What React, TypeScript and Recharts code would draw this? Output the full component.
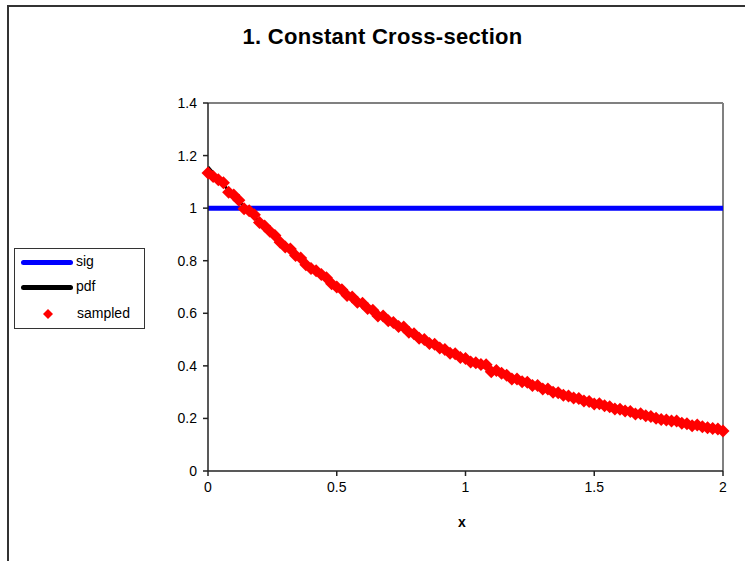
import React from "react";
import {
  ComposedChart,
  Line,
  Scatter,
  XAxis,
  YAxis,
  ReferenceLine,
} from "recharts";

// tick labels
const xTicks = [0, 0.5, 1, 1.5, 2];
const yTicks = [0, 0.2, 0.4, 0.6, 0.8, 1, 1.2, 1.4];

// sig: constant cross-section
const sigX = [0, 2];
const sigY = [1, 1];

// pdf curve
const pdfX = [0, 0.1, 0.2, 0.3, 0.4, 0.5, 0.6, 0.7, 0.8, 0.9, 1, 1.1, 1.2, 1.3, 1.4, 1.5, 1.6, 1.7, 1.8, 1.9, 2];
const pdfY = [
  1.157, 1.046, 0.947, 0.857, 0.775, 0.701, 0.635, 0.574, 0.52, 0.47, 0.425,
  0.385, 0.348, 0.315, 0.285, 0.258, 0.233, 0.211, 0.191, 0.173, 0.157,
];

// sampled histogram points (red diamonds)
const sampledX = [
  0, 0.02, 0.04, 0.06, 0.08, 0.1, 0.12, 0.14, 0.16, 0.18,
  0.2, 0.22, 0.24, 0.26, 0.28, 0.3, 0.32, 0.34, 0.36, 0.38,
  0.4, 0.42, 0.44, 0.46, 0.48, 0.5, 0.52, 0.54, 0.56, 0.58,
  0.6, 0.62, 0.64, 0.66, 0.68, 0.7, 0.72, 0.74, 0.76, 0.78,
  0.8, 0.82, 0.84, 0.86, 0.88, 0.9, 0.92, 0.94, 0.96, 0.98,
  1, 1.02, 1.04, 1.06, 1.08, 1.1, 1.12, 1.14, 1.16, 1.18,
  1.2, 1.22, 1.24, 1.26, 1.28, 1.3, 1.32, 1.34, 1.36, 1.38,
  1.4, 1.42, 1.44, 1.46, 1.48, 1.5, 1.52, 1.54, 1.56, 1.58,
  1.6, 1.62, 1.64, 1.66, 1.68, 1.7, 1.72, 1.74, 1.76, 1.78,
  1.8, 1.82, 1.84, 1.86, 1.88, 1.9, 1.92, 1.94, 1.96, 1.98, 2,
];
const sampledY = [
  1.134, 1.12, 1.108, 1.097, 1.06, 1.05, 1.03, 0.998, 0.99, 0.975,
  0.945, 0.932, 0.912, 0.896, 0.87, 0.852, 0.845, 0.82, 0.81, 0.785,
  0.77, 0.762, 0.748, 0.735, 0.712, 0.7, 0.69, 0.668, 0.662, 0.642,
  0.638, 0.618, 0.612, 0.59, 0.59, 0.572, 0.565, 0.55, 0.548, 0.528,
  0.522, 0.505, 0.5, 0.485, 0.482, 0.468, 0.462, 0.448, 0.446, 0.432,
  0.428, 0.415, 0.412, 0.405, 0.404, 0.378, 0.382, 0.372, 0.364, 0.35,
  0.35, 0.34, 0.338, 0.325, 0.325, 0.312, 0.312, 0.3, 0.298, 0.288,
  0.285, 0.278, 0.276, 0.266, 0.264, 0.255, 0.256, 0.248, 0.244, 0.236,
  0.235, 0.228, 0.226, 0.217, 0.218, 0.21, 0.207, 0.201, 0.196, 0.194,
  0.19, 0.19, 0.182, 0.18, 0.172, 0.175, 0.168, 0.165, 0.162, 0.16, 0.152,
];

const sigData = sigX.map((x, i) => ({ x, y: sigY[i] }));
const pdfData = pdfX.map((x, i) => ({ x, y: pdfY[i] }));
const sampledData = sampledX.map((x, i) => ({ x, y: sampledY[i] }));

const FONT = "Arial, 'Liberation Sans', sans-serif";

const Diamond = (props: any) => {
  const { cx, cy } = props;
  const r = 6.5;
  return (
    <polygon
      points={`${cx},${cy - r} ${cx + r},${cy} ${cx},${cy + r} ${cx - r},${cy}`}
      fill="#ff0000"
    />
  );
};

function LegendBox() {
  const row = { position: "absolute" as const, left: 0, fontSize: 14, lineHeight: "16px" };
  return (
    <div
      style={{
        position: "absolute",
        left: 14,
        top: 248,
        width: 129,
        height: 79,
        border: "1px solid #333",
        fontFamily: FONT,
        background: "#fff",
      }}
    >
      <div style={{ ...row, top: 4 }}>
        <span style={{ position: "absolute", left: 6, top: 7, width: 52, height: 5, borderRadius: 3, background: "#0000ff" }} />
        <span style={{ position: "absolute", left: 61, top: 0 }}>sig</span>
      </div>
      <div style={{ ...row, top: 29 }}>
        <span style={{ position: "absolute", left: 6, top: 7, width: 52, height: 5, borderRadius: 3, background: "#000" }} />
        <span style={{ position: "absolute", left: 61, top: 0 }}>pdf</span>
      </div>
      <div style={{ ...row, top: 56 }}>
        <svg style={{ position: "absolute", left: 27, top: 3 }} width="12" height="12">
          <polygon points="6,1 11,6 6,11 1,6" fill="#ff0000" />
        </svg>
        <span style={{ position: "absolute", left: 62, top: 0, whiteSpace: "nowrap" }}>sampled</span>
      </div>
    </div>
  );
}

export default function App() {
  return (
    <div
      style={{
        position: "absolute",
        left: 0,
        top: 0,
        width: 745,
        height: 561,
        overflow: "hidden",
        background: "#fff",
        fontFamily: FONT,
      }}
    >
      <div
        style={{
          position: "absolute",
          left: 0,
          width: 765,
          top: 24,
          textAlign: "center",
          fontSize: 22,
          fontWeight: "bold",
          letterSpacing: 0.3,
        }}
      >
        1. Constant Cross-section
      </div>
      <div
        style={{
          position: "absolute",
          left: 458,
          top: 514,
          fontSize: 14,
          fontWeight: "bold",
        }}
      >
        x
      </div>
      <div style={{ position: "absolute", left: 0, top: 0 }}>
        <ComposedChart
          width={745}
          height={561}
          margin={{ top: 103, right: 22, bottom: 60, left: 158 }}
        >
          <XAxis
            type="number"
            dataKey="x"
            domain={[0, 2]}
            ticks={xTicks}
            allowDuplicatedCategory={false}
            height={30}
            tickSize={5}
            tickMargin={6}
            stroke="#222"
            strokeWidth={1.5}
            tick={{ fill: "#000", fontSize: 14, fontFamily: FONT }}
            tickFormatter={(v) => String(v)}
          />
          <YAxis
            type="number"
            domain={[0, 1.4]}
            ticks={yTicks}
            width={50}
            tickSize={5}
            tickMargin={6}
            stroke="#222"
            strokeWidth={1.5}
            tick={{ fill: "#000", fontSize: 14, fontFamily: FONT }}
            tickFormatter={(v) => String(Math.round(v * 10) / 10)}
          />
          <ReferenceLine y={1.4} stroke="#808080" strokeWidth={2} />
          <ReferenceLine x={2} stroke="#808080" strokeWidth={2} />
          <Line
            data={pdfData}
            dataKey="y"
            type="monotone"
            stroke="#000"
            strokeWidth={3}
            dot={false}
            isAnimationActive={false}
          />
          <Scatter
            data={sampledData}
            dataKey="y"
            shape={Diamond}
            isAnimationActive={false}
          />
          <Line
            data={sigData}
            dataKey="y"
            type="linear"
            stroke="#0000ff"
            strokeWidth={5}
            dot={false}
            isAnimationActive={false}
          />
        </ComposedChart>
      </div>
      <LegendBox />
      {/* outer chart frame, only left and top edges fall inside the picture */}
      <div style={{ position: "absolute", left: 7, top: 5, width: 2, height: 560, background: "#333" }} />
      <div style={{ position: "absolute", left: 7, top: 5, width: 740, height: 2, background: "#333" }} />
    </div>
  );
}
